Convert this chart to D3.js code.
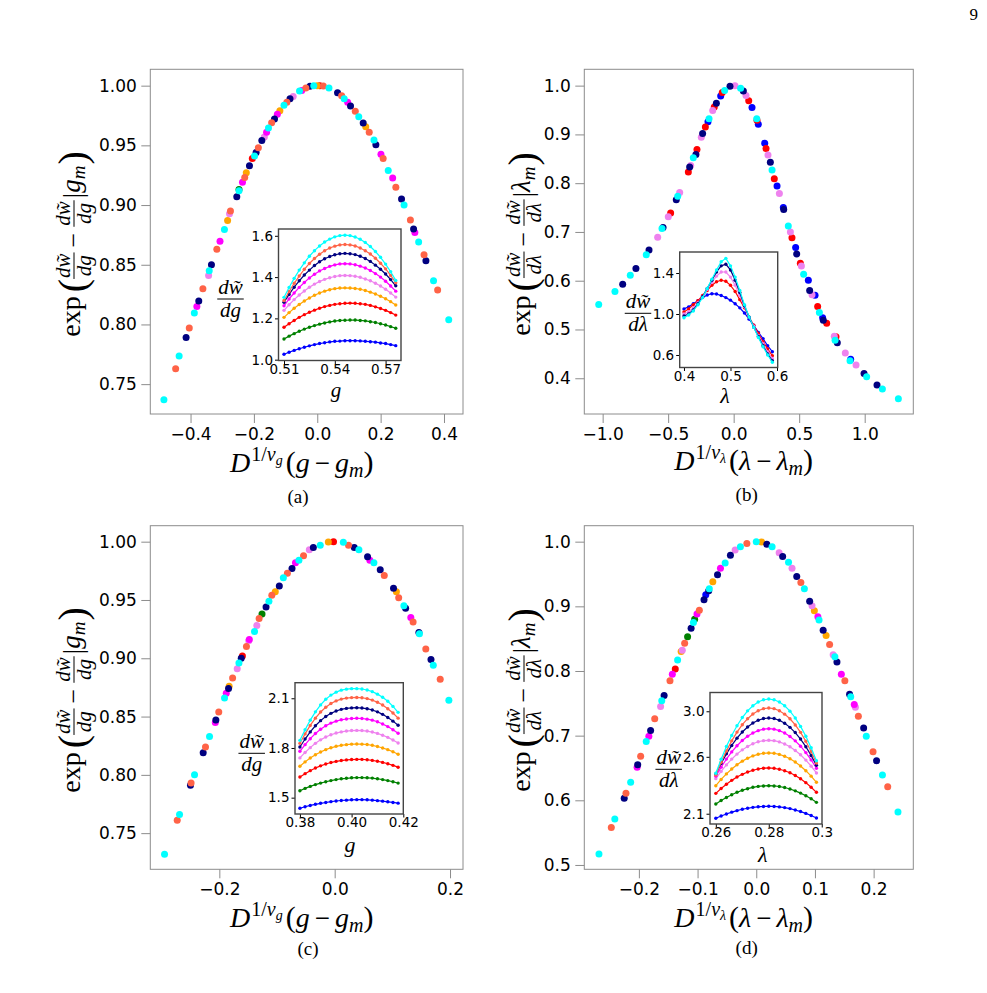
<!DOCTYPE html>
<html lang="en">
<head>
<meta charset="utf-8">
<title>Scaling collapse of dw/dg and dw/dlambda</title>
<script src="https://cdn.jsdelivr.net/npm/d3@7"></script>
<style>
  body { margin: 0; background: #fff; }
  .tick text { font-family: "DejaVu Sans", sans-serif; fill: #000; }
  .math { font-family: "Liberation Serif", "Times New Roman", serif; fill: #000; }
</style>
</head>
<body>
<script>
var W = 987, H = 993;

// series order (system sizes), bottom to top in the insets
var seriesColors = ["blue", "green", "red", "orange", "violet", "magenta", "navy", "tomato", "cyan"];

// ---- main panels: collapsed points [series, D^(1/nu)(x - x_m), exp(...)] ----
var scatterA = [
  [8,-0.484,0.737],[7,-0.447,0.763],[8,-0.436,0.7735],[6,-0.414,0.789],[7,-0.404,0.797],[8,-0.388,0.8095],
  [5,-0.380,0.815],[6,-0.374,0.8196],[7,-0.361,0.830],[4,-0.343,0.841],[8,-0.341,0.845],[6,-0.334,0.850],
  [7,-0.317,0.863],[5,-0.307,0.8696],[8,-0.293,0.8796],[3,-0.283,0.887],[4,-0.277,0.8927],[7,-0.274,0.895],
  [6,-0.254,0.907],[1,-0.247,0.913],[8,-0.247,0.912],[5,-0.236,0.919],[7,-0.229,0.923],[3,-0.224,0.927],
  [6,-0.214,0.933],[2,-0.205,0.939],[8,-0.198,0.941],[6,-0.193,0.944],[7,-0.186,0.948],[6,-0.175,0.954],
  [4,-0.167,0.957],[5,-0.160,0.961],[8,-0.154,0.9645],[7,-0.144,0.969],[6,-0.135,0.972],[5,-0.126,0.976],
  [3,-0.118,0.979],[8,-0.105,0.9835],[7,-0.096,0.986],[6,-0.086,0.989],[4,-0.076,0.991],[8,-0.056,0.9955],
  [5,-0.049,0.996],[7,-0.036,0.998],[6,-0.023,0.9994],[8,-0.011,1.000],[3,0.000,1.000],[2,0.008,1.000],
  [7,0.019,0.9997],[8,0.037,0.998],[6,0.064,0.994],[7,0.077,0.9916],[8,0.085,0.989],[5,0.096,0.986],
  [6,0.105,0.983],[7,0.120,0.9785],[8,0.131,0.974],[6,0.145,0.9687],[3,0.153,0.9656],[7,0.164,0.961],
  [8,0.179,0.9545],[6,0.185,0.9506],[5,0.201,0.9425],[7,0.208,0.939],[8,0.224,0.929],[5,0.238,0.9226],
  [7,0.248,0.915],[6,0.266,0.905],[8,0.274,0.900],[7,0.294,0.8874],[6,0.304,0.880],[5,0.308,0.877],
  [8,0.320,0.869],[7,0.337,0.8584],[6,0.343,0.8534],[8,0.367,0.8366],[7,0.380,0.8288],[8,0.415,0.804]
];
var scatterB = [
  [8,-1.030,0.551],[8,-0.906,0.578],[6,-0.847,0.593],[8,-0.789,0.611],[6,-0.746,0.625],[8,-0.667,0.653],
  [6,-0.646,0.663],[4,-0.580,0.689],[8,-0.547,0.707],[6,-0.539,0.709],[4,-0.499,0.731],[2,-0.481,0.739],
  [6,-0.438,0.766],[8,-0.427,0.773],[4,-0.412,0.781],[2,-0.346,0.823],[6,-0.336,0.833],[4,-0.328,0.836],
  [8,-0.308,0.852],[6,-0.288,0.859],[2,-0.280,0.869],[4,-0.247,0.894],[6,-0.237,0.902],[2,-0.216,0.915],
  [0,-0.196,0.926],[8,-0.188,0.932],[4,-0.160,0.949],[2,-0.148,0.956],[6,-0.132,0.964],[0,-0.099,0.979],
  [2,-0.087,0.986],[8,-0.069,0.990],[6,-0.028,0.999],[4,0.010,1.000],[8,0.053,0.9945],[6,0.074,0.989],
  [4,0.094,0.980],[2,0.115,0.969],[0,0.140,0.955],[8,0.176,0.932],[2,0.178,0.929],[0,0.188,0.921],
  [0,0.237,0.882],[2,0.247,0.871],[4,0.262,0.858],[6,0.280,0.843],[8,0.293,0.827],[2,0.310,0.809],
  [0,0.331,0.794],[4,0.349,0.779],[0,0.379,0.750],[6,0.382,0.746],[8,0.417,0.712],[4,0.433,0.700],
  [2,0.445,0.688],[0,0.473,0.668],[6,0.481,0.655],[2,0.509,0.636],[4,0.517,0.630],[8,0.534,0.613],
  [0,0.570,0.601],[6,0.580,0.580],[4,0.598,0.571],[0,0.621,0.570],[2,0.641,0.547],[8,0.654,0.535],
  [0,0.679,0.524],[6,0.684,0.519],[2,0.710,0.513],[4,0.768,0.486],[2,0.781,0.485],[8,0.774,0.478],
  [6,0.791,0.473],[4,0.852,0.452],[8,0.888,0.436],[0,0.893,0.439],[4,0.934,0.427],[6,0.995,0.410],
  [8,1.015,0.403],[6,1.094,0.386],[8,1.135,0.378],[8,1.257,0.358]
];
var scatterC = [
  [8,-0.295,0.732],[7,-0.273,0.761],[8,-0.269,0.766],[6,-0.250,0.791],[7,-0.249,0.793],[8,-0.243,0.800],
  [6,-0.228,0.819],[7,-0.224,0.824],[8,-0.217,0.833],[5,-0.207,0.845],[6,-0.206,0.847],[7,-0.201,0.854],
  [8,-0.191,0.866],[5,-0.188,0.870],[6,-0.184,0.874],[3,-0.183,0.876],[7,-0.177,0.883],[4,-0.169,0.891],
  [8,-0.166,0.896],[6,-0.162,0.900],[2,-0.160,0.902],[7,-0.153,0.910],[4,-0.149,0.915],[5,-0.148,0.916],
  [8,-0.139,0.923],[4,-0.135,0.928],[7,-0.131,0.934],[1,-0.126,0.938],[6,-0.119,0.944],[8,-0.114,0.949],
  [7,-0.109,0.954],[3,-0.103,0.957],[6,-0.096,0.962],[8,-0.089,0.969],[7,-0.082,0.973],[6,-0.074,0.977],
  [5,-0.068,0.982],[8,-0.062,0.984],[7,-0.054,0.988],[4,-0.044,0.993],[6,-0.037,0.995],[8,-0.025,0.997],
  [3,-0.011,0.9997],[2,-0.002,1.000],[8,0.015,0.9994],[7,0.024,0.997],[6,0.034,0.995],[8,0.042,0.993],
  [6,0.057,0.987],[5,0.061,0.984],[8,0.068,0.982],[6,0.079,0.976],[7,0.086,0.971],[6,0.102,0.960],
  [3,0.107,0.957],[7,0.111,0.952],[8,0.120,0.945],[6,0.123,0.943],[5,0.132,0.935],[7,0.136,0.931],
  [6,0.146,0.922],[8,0.147,0.921],[7,0.158,0.908],[6,0.167,0.899],[8,0.171,0.894],[7,0.183,0.882],
  [8,0.198,0.864]
];
var scatterD = [
  [8,-0.268,0.517],[7,-0.247,0.558],[8,-0.241,0.571],[6,-0.225,0.603],[7,-0.222,0.611],[8,-0.214,0.628],
  [5,-0.203,0.651],[6,-0.202,0.655],[7,-0.197,0.668],[8,-0.1875,0.691],[5,-0.183,0.699],[6,-0.180,0.708],
  [7,-0.173,0.726],[4,-0.163,0.745],[8,-0.161,0.754],[6,-0.157,0.762],[7,-0.147,0.785],[5,-0.143,0.795],
  [2,-0.138,0.803],[8,-0.134,0.817],[3,-0.128,0.830],[4,-0.126,0.832],[7,-0.122,0.843],[1,-0.117,0.853],
  [6,-0.111,0.866],[8,-0.107,0.875],[1,-0.105,0.880],[5,-0.101,0.888],[7,-0.097,0.894],[6,-0.089,0.910],
  [0,-0.086,0.918],[6,-0.081,0.924],[8,-0.080,0.927],[3,-0.074,0.938],[6,-0.066,0.949],[5,-0.061,0.959],
  [8,-0.053,0.967],[6,-0.044,0.979],[4,-0.036,0.987],[8,-0.027,0.992],[7,-0.016,0.997],[8,0.000,1.000],
  [3,0.009,0.9995],[6,0.018,0.996],[8,0.027,0.992],[4,0.039,0.983],[6,0.045,0.977],[8,0.055,0.968],
  [4,0.061,0.959],[6,0.069,0.946],[7,0.076,0.937],[8,0.082,0.927],[6,0.091,0.908],[4,0.095,0.901],
  [3,0.099,0.893],[5,0.105,0.884],[8,0.107,0.879],[6,0.114,0.863],[3,0.119,0.855],[7,0.125,0.841],
  [4,0.131,0.825],[8,0.134,0.822],[6,0.1375,0.814],[5,0.145,0.795],[7,0.151,0.785],[6,0.159,0.764],
  [8,0.161,0.760],[5,0.167,0.748],[4,0.169,0.744],[7,0.174,0.730],[6,0.183,0.712],[8,0.1875,0.699],
  [7,0.199,0.675],[6,0.205,0.661],[8,0.215,0.639],[7,0.224,0.621],[8,0.2415,0.582]
];

// ---- insets: raw derivative curves ----
var insetAX = [0.510,0.513,0.516,0.519,0.522,0.525,0.528,0.531,0.534,0.537,0.540,0.543,0.546,0.549,0.552,0.555,0.558,0.561,0.564,0.567,0.570,0.573,0.576];
var insetAY = [
  [1.026,1.036,1.045,1.053,1.060,1.067,1.073,1.078,1.082,1.086,1.089,1.090,1.092,1.092,1.092,1.091,1.089,1.087,1.085,1.081,1.078,1.073,1.068],
  [1.100,1.114,1.126,1.138,1.148,1.157,1.165,1.172,1.178,1.183,1.187,1.190,1.191,1.192,1.192,1.190,1.188,1.184,1.180,1.174,1.168,1.160,1.152],
  [1.157,1.174,1.190,1.205,1.218,1.230,1.240,1.249,1.257,1.263,1.268,1.271,1.273,1.274,1.273,1.271,1.268,1.263,1.256,1.248,1.239,1.228,1.216],
  [1.205,1.228,1.249,1.267,1.284,1.299,1.312,1.323,1.332,1.339,1.344,1.347,1.348,1.347,1.345,1.341,1.335,1.327,1.318,1.307,1.295,1.281,1.265],
  [1.239,1.266,1.291,1.313,1.333,1.351,1.366,1.379,1.389,1.397,1.403,1.407,1.408,1.407,1.404,1.399,1.391,1.382,1.370,1.357,1.341,1.323,1.303],
  [1.261,1.294,1.323,1.350,1.374,1.396,1.414,1.430,1.442,1.452,1.459,1.464,1.465,1.464,1.460,1.453,1.444,1.432,1.417,1.400,1.380,1.357,1.332],
  [1.278,1.316,1.351,1.382,1.410,1.434,1.456,1.474,1.489,1.500,1.508,1.513,1.515,1.513,1.509,1.501,1.490,1.476,1.458,1.438,1.415,1.388,1.358],
  [1.287,1.330,1.370,1.405,1.438,1.466,1.490,1.511,1.528,1.541,1.550,1.556,1.558,1.556,1.551,1.541,1.528,1.512,1.491,1.467,1.440,1.408,1.373],
  [1.302,1.350,1.394,1.434,1.469,1.501,1.528,1.551,1.570,1.584,1.595,1.601,1.603,1.601,1.594,1.583,1.568,1.548,1.524,1.496,1.463,1.426,1.384]
];
var insetBX = [0.40,0.41,0.42,0.43,0.44,0.45,0.46,0.47,0.48,0.49,0.50,0.51,0.52,0.53,0.54,0.55,0.56,0.57,0.58,0.59];
var insetBSeries = [0, 2, 4, 6, 8];
var insetBY = [
  [1.05,1.07,1.10,1.13,1.16,1.185,1.198,1.195,1.18,1.16,1.135,1.10,1.06,1.01,0.95,0.89,0.82,0.76,0.69,0.632],
  [1.02,1.05,1.09,1.13,1.18,1.23,1.28,1.315,1.329,1.32,1.28,1.22,1.14,1.06,0.97,0.89,0.81,0.73,0.66,0.593],
  [1.00,1.02,1.06,1.11,1.17,1.24,1.31,1.37,1.41,1.41,1.36,1.28,1.18,1.07,0.97,0.88,0.79,0.71,0.63,0.567],
  [0.98,1.00,1.04,1.10,1.17,1.25,1.33,1.41,1.47,1.485,1.43,1.33,1.21,1.08,0.97,0.87,0.78,0.69,0.61,0.544],
  [0.964,0.99,1.03,1.09,1.16,1.25,1.34,1.43,1.51,1.543,1.47,1.36,1.23,1.09,0.97,0.87,0.77,0.68,0.60,0.529]
];
var insetCX = [0.380,0.382,0.384,0.386,0.388,0.390,0.392,0.394,0.396,0.398,0.400,0.402,0.404,0.406,0.408,0.410,0.412,0.414,0.416,0.418];
var insetCY = [
  [1.436,1.445,1.453,1.460,1.466,1.471,1.476,1.480,1.483,1.485,1.487,1.488,1.488,1.487,1.485,1.482,1.479,1.475,1.471,1.467],
  [1.542,1.556,1.568,1.579,1.588,1.596,1.603,1.609,1.614,1.617,1.620,1.621,1.621,1.620,1.618,1.614,1.609,1.603,1.596,1.588],
  [1.625,1.645,1.663,1.679,1.692,1.703,1.712,1.719,1.724,1.728,1.730,1.731,1.731,1.729,1.725,1.720,1.713,1.705,1.695,1.684],
  [1.690,1.716,1.739,1.759,1.776,1.790,1.801,1.810,1.816,1.820,1.823,1.824,1.823,1.821,1.816,1.809,1.800,1.790,1.777,1.762],
  [1.740,1.773,1.802,1.828,1.849,1.866,1.880,1.890,1.897,1.902,1.905,1.906,1.905,1.902,1.896,1.888,1.877,1.864,1.848,1.830],
  [1.780,1.820,1.856,1.887,1.913,1.934,1.950,1.962,1.970,1.975,1.978,1.979,1.978,1.974,1.968,1.958,1.945,1.929,1.910,1.889],
  [1.806,1.854,1.897,1.934,1.965,1.990,2.009,2.023,2.033,2.039,2.042,2.043,2.041,2.037,2.029,2.018,2.003,1.984,1.962,1.937],
  [1.828,1.885,1.936,1.980,2.017,2.046,2.068,2.084,2.095,2.101,2.104,2.105,2.103,2.098,2.089,2.076,2.059,2.037,2.011,1.980],
  [1.846,1.910,1.968,2.018,2.060,2.094,2.119,2.137,2.149,2.155,2.158,2.158,2.156,2.150,2.140,2.125,2.106,2.082,2.051,2.015]
];
var insetDX = [0.260,0.262,0.264,0.266,0.268,0.270,0.272,0.274,0.276,0.278,0.280,0.282,0.284,0.286,0.288,0.290,0.292,0.294,0.296,0.298];
var insetDY = [
  [2.060,2.080,2.098,2.114,2.127,2.139,2.148,2.156,2.161,2.164,2.165,2.164,2.160,2.154,2.145,2.133,2.119,2.103,2.084,2.062],
  [2.185,2.216,2.243,2.267,2.288,2.306,2.320,2.332,2.340,2.344,2.346,2.344,2.339,2.330,2.317,2.301,2.281,2.258,2.231,2.200],
  [2.279,2.321,2.359,2.393,2.422,2.446,2.466,2.482,2.493,2.500,2.502,2.499,2.491,2.478,2.460,2.436,2.407,2.373,2.333,2.288],
  [2.346,2.401,2.450,2.493,2.530,2.562,2.588,2.608,2.622,2.631,2.634,2.631,2.621,2.605,2.583,2.554,2.519,2.478,2.430,2.376],
  [2.408,2.472,2.529,2.580,2.624,2.661,2.691,2.715,2.732,2.742,2.745,2.742,2.731,2.713,2.688,2.656,2.618,2.571,2.518,2.458],
  [2.430,2.509,2.580,2.643,2.697,2.743,2.780,2.809,2.830,2.843,2.847,2.843,2.830,2.809,2.779,2.740,2.693,2.637,2.573,2.500],
  [2.449,2.542,2.626,2.700,2.764,2.818,2.862,2.897,2.921,2.936,2.941,2.936,2.921,2.895,2.859,2.813,2.756,2.689,2.612,2.525],
  [2.440,2.552,2.652,2.740,2.817,2.882,2.935,2.976,3.005,3.023,3.029,3.023,3.005,2.975,2.934,2.880,2.815,2.737,2.647,2.546],
  [2.455,2.579,2.690,2.788,2.873,2.945,3.004,3.049,3.082,3.101,3.108,3.101,3.081,3.048,3.001,2.941,2.867,2.780,2.680,2.566]
];

// ---- tick values and labels ----
var ticksAX = [-0.4, -0.2, 0, 0.2, 0.4], labelsAX = ["\u22120.4", "\u22120.2", "0.0", "0.2", "0.4"];
var ticksAY = [0.75, 0.80, 0.85, 0.90, 0.95, 1.00], labelsAY = ["0.75", "0.80", "0.85", "0.90", "0.95", "1.00"];
var ticksBX = [-1, -0.5, 0, 0.5, 1], labelsBX = ["\u22121.0", "\u22120.5", "0.0", "0.5", "1.0"];
var ticksBY = [0.4, 0.5, 0.6, 0.7, 0.8, 0.9, 1.0], labelsBY = ["0.4", "0.5", "0.6", "0.7", "0.8", "0.9", "1.0"];
var ticksCX = [-0.2, 0, 0.2], labelsCX = ["\u22120.2", "0.0", "0.2"];
var ticksCY = ticksAY, labelsCY = labelsAY;
var ticksDX = [-0.2, -0.1, 0, 0.1, 0.2], labelsDX = ["\u22120.2", "\u22120.1", "0.0", "0.1", "0.2"];
var ticksDY = [0.5, 0.6, 0.7, 0.8, 0.9, 1.0], labelsDY = ["0.5", "0.6", "0.7", "0.8", "0.9", "1.0"];
var insetTicksAX = [0.51, 0.54, 0.57], insetLabelsAX = ["0.51", "0.54", "0.57"];
var insetTicksAY = [1.0, 1.2, 1.4, 1.6], insetLabelsAY = ["1.0", "1.2", "1.4", "1.6"];
var insetTicksBX = [0.4, 0.5, 0.6], insetLabelsBX = ["0.4", "0.5", "0.6"];
var insetTicksBY = [0.6, 1.0, 1.4], insetLabelsBY = ["0.6", "1.0", "1.4"];
var insetTicksCX = [0.38, 0.40, 0.42], insetLabelsCX = ["0.38", "0.40", "0.42"];
var insetTicksCY = [1.5, 1.8, 2.1], insetLabelsCY = ["1.5", "1.8", "2.1"];
var insetTicksDX = [0.26, 0.28, 0.30], insetLabelsDX = ["0.26", "0.28", "0.3"];
var insetTicksDY = [2.1, 2.6, 3.0], insetLabelsDY = ["2.1", "2.6", "3.0"];

var svg = d3.select("body").append("svg")
    .attr("width", W).attr("height", H);
svg.append("rect").attr("width", W).attr("height", H).attr("fill", "white");

var WT = "w\u0303";

// lay out a row of math pieces left to right, returns group and width
function mathRow(parent, pieces) {
  var g = parent.append("g").attr("class", "math");
  var cx = 0;
  pieces.forEach(function(pc) {
    if (pc.gap) { cx += pc.gap; return; }
    if (pc.frac) {
      var num = g.append("text").attr("font-size", pc.size).attr("font-style", "italic")
          .attr("text-anchor", "middle").attr("y", pc.numY).text(pc.frac[0]);
      var den = g.append("text").attr("font-size", pc.size).attr("font-style", "italic")
          .attr("text-anchor", "middle").attr("y", pc.denY).text(pc.frac[1]);
      var w = Math.max(num.node().getComputedTextLength(), den.node().getComputedTextLength()) + 2;
      num.attr("x", cx + w / 2);
      den.attr("x", cx + w / 2);
      g.append("line").attr("x1", cx).attr("x2", cx + w)
          .attr("y1", pc.bar).attr("y2", pc.bar)
          .attr("stroke", "#000").attr("stroke-width", pc.lw || 1);
      cx += w;
      return;
    }
    var t = g.append("text").attr("x", cx).attr("y", pc.dy || 0)
        .attr("font-size", pc.size)
        .attr("font-style", pc.it ? "italic" : "normal")
        .text(pc.t);
    cx += t.node().getComputedTextLength();
  });
  return {g: g, width: cx};
}

function yLabelPieces(v) {
  return [
    {t: "exp", size: 28},
    {gap: 4},
    {t: "(", size: 40, dy: 6},
    {frac: ["d" + WT, "d" + v], size: 21, bar: -6, numY: -10, denY: 11},
    {gap: 5},
    {t: "\u2212", size: 26, dy: 2},
    {gap: 6},
    {frac: ["d" + WT, "d" + v], size: 21, bar: -6, numY: -10, denY: 11},
    {gap: 2},
    {t: "|", size: 27, dy: 2},
    {t: v, size: 27, it: true},
    {t: "m", size: 19, it: true, dy: 5},
    {gap: 1},
    {t: ")", size: 40, dy: 6}
  ];
}

function xLabelPieces(v) {
  return [
    {t: "D", size: 28, it: true},
    {gap: 1},
    {t: "1/", size: 20, dy: -11},
    {t: "\u03bd", size: 20, it: true, dy: -11},
    {t: v, size: 14, it: true, dy: -7},
    {gap: 3},
    {t: "(", size: 30},
    {t: v, size: 28, it: true},
    {gap: 5},
    {t: "\u2212", size: 27},
    {gap: 5},
    {t: v, size: 28, it: true},
    {t: "m", size: 20, it: true, dy: 5},
    {t: ")", size: 30}
  ];
}

function centered(parent, pieces, transform) {
  var outer = parent.append("g").attr("transform", transform);
  var row = mathRow(outer, pieces);
  row.g.attr("transform", "translate(" + (-row.width / 2) + ",0)");
  return outer;
}

function styleAxis(sel, size, stroke) {
  sel.select(".domain").remove();
  sel.selectAll(".tick line").attr("stroke", stroke).attr("stroke-width", 1);
  sel.selectAll(".tick text").attr("font-size", size);
}

function drawMain(p) {
  var x = d3.scaleLinear().domain(p.xDom).range([p.x0, p.x1]);
  var y = d3.scaleLinear().domain(p.yDom).range([p.y1, p.y0]);

  var gx = svg.append("g").attr("transform", "translate(0," + p.y1 + ")")
      .call(d3.axisBottom(x).tickValues(p.xTicks)
        .tickFormat(function(d, i) { return p.xLabels[i]; })
        .tickSize(9).tickPadding(5));
  styleAxis(gx, 17, "#8c8c8c");
  var gy = svg.append("g").attr("transform", "translate(" + p.x0 + ",0)")
      .call(d3.axisLeft(y).tickValues(p.yTicks)
        .tickFormat(function(d, i) { return p.yLabels[i]; })
        .tickSize(9).tickPadding(4.5));
  styleAxis(gy, 17, "#8c8c8c");

  svg.append("rect")
      .attr("x", p.x0).attr("y", p.y0)
      .attr("width", p.x1 - p.x0).attr("height", p.y1 - p.y0)
      .attr("fill", "none").attr("stroke", "#8c8c8c").attr("stroke-width", 1);

  var pts = p.data.slice().sort(function(a, b) { return a[0] - b[0]; });
  svg.append("g").selectAll("circle")
      .data(pts)
      .enter().append("circle")
      .attr("cx", function(d) { return x(d[1]); })
      .attr("cy", function(d) { return y(d[2]); })
      .attr("r", 3.5)
      .attr("fill", function(d) { return seriesColors[d[0]]; });

  // axis labels
  centered(svg, xLabelPieces(p.v), "translate(" + p.xlx + "," + p.xly + ")");
  centered(svg, yLabelPieces(p.v), "translate(" + p.ylx + "," + p.yly + ") rotate(-90)");

  svg.append("text").attr("class", "math")
      .attr("x", p.capX).attr("y", p.capY)
      .attr("text-anchor", "middle").attr("font-size", 19)
      .text(p.caption);
}

function drawInset(p) {
  var x = d3.scaleLinear().domain(p.xDom).range([p.x0, p.x1]);
  var y = d3.scaleLinear().domain(p.yDom).range([p.y1, p.y0]);

  var gx = svg.append("g").attr("transform", "translate(0," + p.y1 + ")")
      .call(d3.axisBottom(x).tickValues(p.xTicks)
        .tickFormat(function(d, i) { return p.xLabels[i]; })
        .tickSize(3.5).tickPadding(0));
  styleAxis(gx, 13.5, "#000");
  var gy = svg.append("g").attr("transform", "translate(" + p.x0 + ",0)")
      .call(d3.axisLeft(y).tickValues(p.yTicks)
        .tickFormat(function(d, i) { return p.yLabels[i]; })
        .tickSize(3.5).tickPadding(2));
  styleAxis(gy, 13.5, "#000");

  var line = d3.line()
      .x(function(d) { return x(d[0]); })
      .y(function(d) { return y(d[1]); });

  p.ys.forEach(function(vals, i) {
    var col = seriesColors[p.series[i]];
    var pts = p.xs.map(function(xv, j) { return [xv, vals[j]]; });
    var g = svg.append("g");
    g.append("path").datum(pts).attr("d", line)
        .attr("fill", "none").attr("stroke", col).attr("stroke-width", 1.2);
    g.selectAll("circle").data(pts).enter().append("circle")
        .attr("cx", function(d) { return x(d[0]); })
        .attr("cy", function(d) { return y(d[1]); })
        .attr("r", 1.7).attr("fill", col);
  });

  svg.append("rect")
      .attr("x", p.x0).attr("y", p.y0)
      .attr("width", p.x1 - p.x0).attr("height", p.y1 - p.y0)
      .attr("fill", "none").attr("stroke", "#444").attr("stroke-width", 1.4);

  // labels
  svg.append("text").attr("class", "math")
      .attr("x", p.xlx).attr("y", p.xly)
      .attr("text-anchor", "middle").attr("font-size", p.xls || 22).attr("font-style", "italic")
      .text(p.v);
  centered(svg, [{frac: ["d" + WT, "d" + p.v], size: 21, bar: 0, numY: -5, denY: 18}],
      "translate(" + p.ylx + "," + p.yly + ")");
}

var allSeries = [0, 1, 2, 3, 4, 5, 6, 7, 8];

drawMain({data: scatterA, v: "g", caption: "(a)",
  x0: 150.3, x1: 463, y0: 69.3, y1: 414, xDom: [-0.527, 0.46], yDom: [0.725, 1.0137],
  xTicks: ticksAX, xLabels: labelsAX, yTicks: ticksAY, yLabels: labelsAY,
  xlx: 301.7, xly: 471.7, ylx: 80, yly: 244, capX: 298, capY: 503});
drawMain({data: scatterB, v: "\u03bb", caption: "(b)",
  x0: 584.3, x1: 913.3, y0: 69.3, y1: 414, xDom: [-1.14, 1.371], yDom: [0.3267, 1.0335],
  xTicks: ticksBX, xLabels: labelsBX, yTicks: ticksBY, yLabels: labelsBY,
  xlx: 743.7, xly: 470, ylx: 530, yly: 244, capX: 746.7, capY: 501});
drawMain({data: scatterC, v: "g", caption: "(c)",
  x0: 150.3, x1: 463, y0: 525.7, y1: 869.3, xDom: [-0.3197, 0.2225], yDom: [0.719, 1.0137],
  xTicks: ticksCX, xLabels: labelsCX, yTicks: ticksCY, yLabels: labelsCY,
  xlx: 301.7, xly: 926.7, ylx: 80, yly: 700, capX: 308, capY: 955});
drawMain({data: scatterD, v: "\u03bb", caption: "(d)",
  x0: 584.3, x1: 913.3, y0: 525.7, y1: 869.3, xDom: [-0.293, 0.2676], yDom: [0.4933, 1.0247],
  xTicks: ticksDX, xLabels: labelsDX, yTicks: ticksDY, yLabels: labelsDY,
  xlx: 743.7, xly: 926.7, ylx: 530, yly: 700, capX: 746.7, capY: 954});

drawInset({xs: insetAX, ys: insetAY, series: allSeries, v: "g",
  x0: 278.5, x1: 401, y0: 229, y1: 360.5, xDom: [0.50675, 0.5791], yDom: [0.996, 1.633],
  xTicks: insetTicksAX, xLabels: insetLabelsAX, yTicks: insetTicksAY, yLabels: insetLabelsAY,
  xlx: 336, xly: 396.5, xls: 21, ylx: 230.5, yly: 299});
drawInset({xs: insetBX, ys: insetBY, series: insetBSeries, v: "\u03bb",
  x0: 679.7, x1: 777.7, y0: 252, y1: 367.5, xDom: [0.3908, 0.6015], yDom: [0.478, 1.605],
  xTicks: insetTicksBX, xLabels: insetLabelsBX, yTicks: insetTicksBY, yLabels: insetLabelsBY,
  xlx: 725, xly: 402.5, ylx: 638, yly: 313.3});
drawInset({xs: insetCX, ys: insetCY, series: allSeries, v: "g",
  x0: 295, x1: 403.3, y0: 682.7, y1: 814, xDom: [0.3781, 0.42], yDom: [1.4014, 2.194],
  xTicks: insetTicksCX, xLabels: insetLabelsCX, yTicks: insetTicksCY, yLabels: insetLabelsCY,
  xlx: 350, xly: 852, ylx: 251.7, yly: 753.3});
drawInset({xs: insetDX, ys: insetDY, series: allSeries, v: "\u03bb",
  x0: 710, x1: 822, y0: 692.5, y1: 824, xDom: [0.2578, 0.3001], yDom: [2.0097, 3.165],
  xTicks: insetTicksDX, xLabels: insetLabelsDX, yTicks: insetTicksDY, yLabels: insetLabelsDY,
  xlx: 762.7, xly: 862, ylx: 668.7, yly: 769.3});

// page number
svg.append("text").attr("class", "math")
    .attr("x", 969.5).attr("y", 20).attr("font-size", 17).text("9");
</script>
</body>
</html>
